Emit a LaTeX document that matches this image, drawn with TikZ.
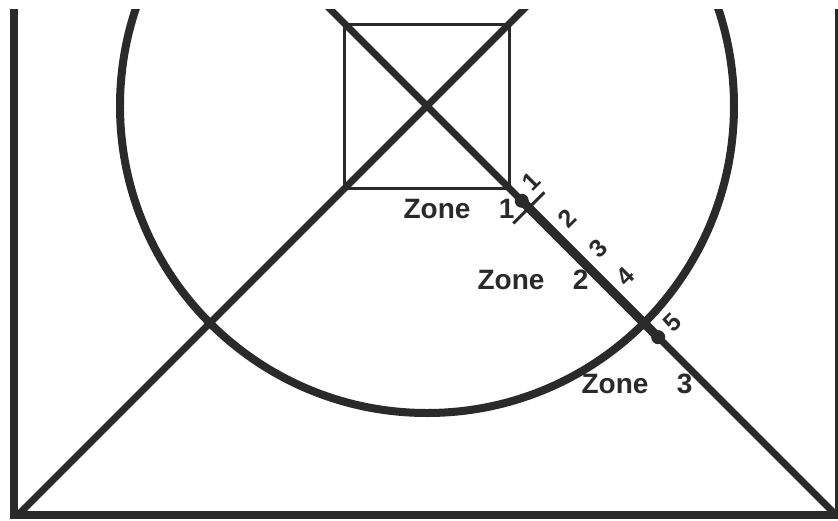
\documentclass[tikz,border=0pt]{standalone}
\usepackage{fontspec}
\setmainfont{Liberation Sans}
\usetikzlibrary{positioning,calc}
\definecolor{ink}{HTML}{2A2A2A}

\begin{document}
\begin{tikzpicture}[x=1pt,y=1pt,
  frame/.style={draw=ink,line width=8pt},
  diag/.style={draw=ink,line width=7pt},
  thin/.style={draw=ink,line width=3pt},
  zonelbl/.style={inner sep=0pt,text=ink,font=\fontsize{28}{32}\selectfont\bfseries},
  numlbl/.style={inner sep=0pt,text=ink,rotate=45,font=\fontsize{25}{28}\selectfont\bfseries},
  marker/.style={circle,fill=ink,inner sep=0pt,minimum size=14pt}]
  \useasboundingbox (-427,-414) rectangle (411,106);
  \begin{scope}
    \clip (-427,-414) rectangle (411,97);
    \coordinate (c) at (0,0);
    \coordinate (bl) at (-409,-409);
    \coordinate (br) at (409,-409);
    \coordinate (tl) at (-120,120);
    \coordinate (tr) at (120,120);
    \coordinate (fl) at (-412.5,120);
    \coordinate (fr) at (412,120);
    % court outline
    \draw[frame] (fl) -- (-412.5,-409) -- (412,-409) -- (fr);
    \draw[frame] (c) circle (307);
    \draw[thin] (-82,-82) rectangle (82,82);
    \draw[diag] (bl) -- (tr);
    \draw[diag] (br) -- (tl);
    % distance marks
    \node[marker] (d1) at (-45:134) {};
    \node[marker] (d2) at (-45:327) {};
    \draw[ink,line width=9pt] (d1.center) -- (d2.center);
    \coordinate (tk1) at ($(-45:144)+(45:22)$);
    \coordinate (tk2) at ($(-45:144)+(-135:22)$);
    \draw[thin] (tk1) -- (tk2);
    \foreach \t/\n in {127/1,179/2,222/3,261/4,327/5}
      \node[numlbl] (n\n) at ($(-45:\t)+(45:20)$) {\n};
    % zones
    \node[zonelbl] (zone1) at (10,-103) {Zone};
    \node[zonelbl,right=28pt of zone1] (zone1n) {1};
    \node[zonelbl] (zone2) at (84,-174) {Zone};
    \node[zonelbl,right=28pt of zone2] (zone2n) {2};
    \node[zonelbl] (zone3) at (188,-278) {Zone};
    \node[zonelbl,right=28pt of zone3] (zone3n) {3};
  \end{scope}
\end{tikzpicture}
\end{document}
